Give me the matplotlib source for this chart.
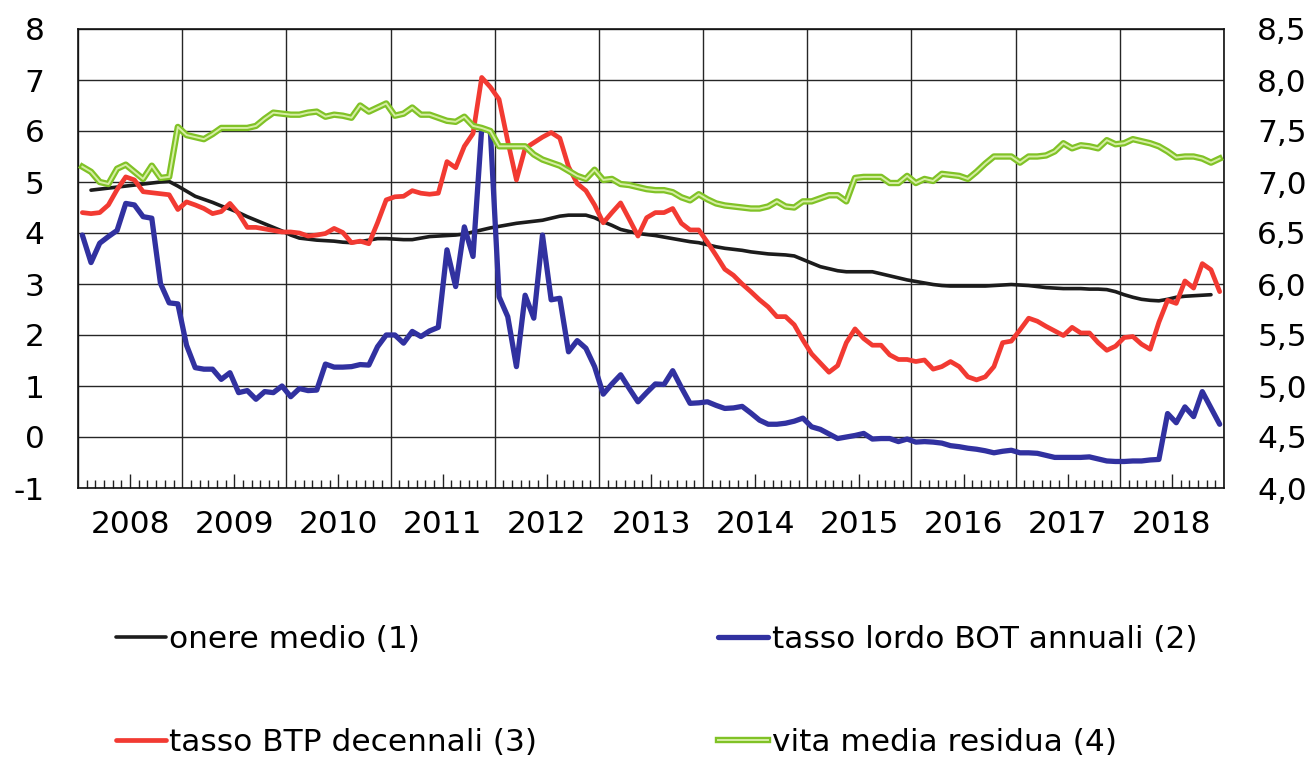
import numpy as np
import matplotlib
matplotlib.use("Agg")
import matplotlib.pyplot as plt
import matplotlib.patheffects as pe

# ---------------- data (monthly, Jan 2008 - Dec 2018) ----------------
years = ["2008", "2009", "2010", "2011", "2012", "2013", "2014", "2015", "2016", "2017", "2018"]

onere_medio = [np.nan,
    4.84, 4.86, 4.88, 4.90, 4.92, 4.94, 4.96, 4.98, 5.00, 5.01, 4.92,
    4.82, 4.72, 4.66, 4.60, 4.53, 4.47, 4.40, 4.32, 4.25, 4.18, 4.11, 4.04,
    3.96, 3.90, 3.88, 3.86, 3.85, 3.84, 3.82, 3.81, 3.83, 3.86, 3.89, 3.89,
    3.88, 3.87, 3.87, 3.90, 3.93, 3.94, 3.95, 3.96, 3.98, 4.02, 4.06, 4.10,
    4.13, 4.16, 4.19, 4.21, 4.23, 4.25, 4.29, 4.33, 4.35, 4.35, 4.35, 4.30,
    4.22, 4.15, 4.07, 4.03, 3.99, 3.97, 3.95, 3.92, 3.89, 3.86, 3.83, 3.81,
    3.77, 3.73, 3.70, 3.68, 3.66, 3.63, 3.61, 3.59, 3.58, 3.57, 3.55, 3.48,
    3.41, 3.34, 3.30, 3.26, 3.24, 3.24, 3.24, 3.24, 3.20, 3.16, 3.12, 3.08,
    3.05, 3.02, 2.99, 2.97, 2.96, 2.96, 2.96, 2.96, 2.96, 2.97, 2.98, 2.99,
    2.98, 2.97, 2.95, 2.93, 2.92, 2.91, 2.91, 2.91, 2.90, 2.90, 2.89, 2.85,
    2.79, 2.74, 2.70, 2.68, 2.67, 2.70, 2.74, 2.76, 2.77, 2.78, 2.79,
    np.nan]

tasso_bot = [
    3.96, 3.42, 3.80, 3.93, 4.05, 4.58, 4.55, 4.32, 4.29, 3.01, 2.63, 2.61,
    1.80, 1.36, 1.33, 1.33, 1.13, 1.26, 0.87, 0.91, 0.74, 0.89, 0.87, 1.00,
    0.79, 0.95, 0.91, 0.92, 1.43, 1.37, 1.37, 1.38, 1.42, 1.41, 1.77, 2.00,
    2.00, 1.84, 2.07, 1.97, 2.08, 2.15, 3.67, 2.95, 4.12, 3.54, 6.05, 5.99,
    2.75, 2.36, 1.38, 2.78, 2.33, 3.96, 2.69, 2.72, 1.67, 1.89, 1.74, 1.38,
    0.84, 1.04, 1.22, 0.95, 0.69, 0.87, 1.04, 1.03, 1.30, 0.97, 0.66, 0.67,
    0.69, 0.62, 0.56, 0.57, 0.60, 0.47, 0.33, 0.25, 0.25, 0.27, 0.31, 0.37,
    0.20, 0.15, 0.06, -0.03, 0.00, 0.03, 0.07, -0.04, -0.03, -0.03, -0.09, -0.04,
    -0.10, -0.09, -0.10, -0.12, -0.17, -0.19, -0.22, -0.24, -0.27, -0.31, -0.28, -0.26,
    -0.31, -0.31, -0.32, -0.36, -0.40, -0.40, -0.40, -0.40, -0.39, -0.43, -0.47, -0.48,
    -0.48, -0.47, -0.47, -0.45, -0.44, 0.46, 0.28, 0.59, 0.40, 0.89, 0.57, 0.25]

tasso_btp = [
    4.40, 4.38, 4.40, 4.55, 4.85, 5.10, 5.04, 4.81, 4.79, 4.77, 4.75, 4.46,
    4.61, 4.55, 4.48, 4.38, 4.42, 4.58, 4.38, 4.11, 4.11, 4.08, 4.05, 4.02,
    4.02, 4.00, 3.94, 3.96, 3.99, 4.09, 4.01, 3.81, 3.84, 3.79, 4.20, 4.65,
    4.71, 4.72, 4.83, 4.78, 4.76, 4.78, 5.40, 5.28, 5.70, 5.95, 7.05, 6.86,
    6.62, 5.80, 5.04, 5.66, 5.77, 5.88, 5.97, 5.86, 5.30, 4.97, 4.83, 4.55,
    4.20, 4.40, 4.59, 4.27, 3.94, 4.30, 4.40, 4.40, 4.48, 4.19, 4.06, 4.06,
    3.82, 3.56, 3.29, 3.17, 3.00, 2.85, 2.69, 2.55, 2.36, 2.36, 2.20, 1.90,
    1.63, 1.45, 1.27, 1.40, 1.85, 2.12, 1.93, 1.80, 1.80, 1.61, 1.52, 1.52,
    1.48, 1.51, 1.33, 1.38, 1.48, 1.38, 1.18, 1.12, 1.18, 1.38, 1.85, 1.88,
    2.10, 2.33, 2.27, 2.17, 2.08, 1.99, 2.15, 2.04, 2.04, 1.85, 1.70, 1.78,
    1.95, 1.97, 1.82, 1.72, 2.25, 2.68, 2.62, 3.06, 2.92, 3.40, 3.28, 2.85]

vita_media = [
    7.15, 7.10, 7.00, 6.98, 7.13, 7.17, 7.10, 7.03, 7.16, 7.04, 7.05, 7.54,
    7.46, 7.44, 7.42, 7.47, 7.53, 7.53, 7.53, 7.53, 7.55, 7.62, 7.68, 7.67,
    7.66, 7.66, 7.68, 7.69, 7.64, 7.66, 7.65, 7.63, 7.75, 7.69, 7.73, 7.77,
    7.65, 7.67, 7.73, 7.66, 7.66, 7.63, 7.60, 7.59, 7.64, 7.55, 7.53, 7.50,
    7.35, 7.35, 7.35, 7.35, 7.27, 7.22, 7.19, 7.16, 7.11, 7.06, 7.03, 7.12,
    7.02, 7.03, 6.98, 6.97, 6.95, 6.93, 6.92, 6.92, 6.90, 6.85, 6.82, 6.88,
    6.83, 6.79, 6.77, 6.76, 6.75, 6.74, 6.74, 6.76, 6.81, 6.76, 6.75, 6.81,
    6.81, 6.84, 6.87, 6.87, 6.81, 7.04, 7.05, 7.05, 7.05, 6.99, 6.99, 7.06,
    6.99, 7.03, 7.01, 7.08, 7.07, 7.06, 7.03, 7.10, 7.18, 7.25, 7.25, 7.25,
    7.19, 7.25, 7.25, 7.26, 7.30, 7.38, 7.33, 7.36, 7.35, 7.33, 7.41, 7.37,
    7.38, 7.42, 7.40, 7.38, 7.35, 7.30, 7.24, 7.25, 7.25, 7.23, 7.19, 7.23]

left_ticks = [-1, 0, 1, 2, 3, 4, 5, 6, 7, 8]
right_ticks = [4.0, 4.5, 5.0, 5.5, 6.0, 6.5, 7.0, 7.5, 8.0, 8.5]

labels = ["onere medio (1)", "tasso lordo BOT annuali (2)",
          "tasso BTP decennali (3)", "vita media residua (4)"]

# ---------------- figure ----------------
W, H = 1311, 758
fig = plt.figure(figsize=(W / 100, H / 100), dpi=100)
FS = 22.5
plt.rcParams['font.family'] = ['DejaVu Sans']

L, R, T, B = 78, 1224, 29, 488
ax = fig.add_axes([L / W, (H - B) / H, (R - L) / W, (B - T) / H])

n = len(tasso_bot)
x = np.arange(n) + 0.5

c_black = '#1c1c1c'
c_blue = '#3131a0'
c_red = '#f23a32'
c_green_out = '#80c226'
c_green_in = '#d6eea4'

l1, = ax.plot(x, onere_medio, color=c_black, lw=2.6, label=labels[0], zorder=3,
              solid_capstyle='round')
l2, = ax.plot(x, tasso_bot, color=c_blue, lw=3.8, label=labels[1], zorder=3,
              solid_capstyle='round')
l3, = ax.plot(x, tasso_btp, color=c_red, lw=3.4, label=labels[2], zorder=3,
              solid_capstyle='round')

ax.set_xlim(0, n)
ax.set_ylim(-1, 8)
ax.set_yticks(left_ticks)
ax.set_yticklabels([str(v) for v in left_ticks])
ax.tick_params(axis='y', length=0, pad=24, labelsize=FS)

# x: year boundaries as grid, months as minor ticks, labels at mid-year
ax.set_xticks(np.arange(0, n + 1, 12))
ax.set_xticklabels([])
ax.tick_params(axis='x', which='major', length=0)
minor_pos = [m for m in range(1, n) if m % 12 != 0]
ax.set_xticks(minor_pos, minor=True)
ax.set_xticklabels([years[m // 12] if m % 12 == 6 else "" for m in minor_pos], minor=True)
ax.tick_params(axis='x', which='minor', direction='in', length=6, width=1.0,
               color='#222222', pad=16, labelsize=FS, top=False)
for m, tk in zip(minor_pos, ax.xaxis.get_minor_ticks()):
    if m % 12 == 6:
        tk.tick1line.set_markersize(10)

ax.grid(True, which='major', color='#262626', lw=1.0)
ax.set_axisbelow(True)
for s in ax.spines.values():
    s.set_color('#111111')
    s.set_linewidth(1.2)

ax2 = ax.twinx()
l4, = ax2.plot(x, vita_media, color=c_green_in, lw=1.4, label=labels[3], zorder=3,
               path_effects=[pe.Stroke(linewidth=4.6, foreground=c_green_out), pe.Normal()])
ax2.set_ylim(4.0, 8.5)
ax2.set_yticks(right_ticks)
ax2.set_yticklabels([f"{v:.1f}".replace('.', ',') for v in right_ticks])
ax2.tick_params(axis='y', length=0, pad=24, labelsize=FS)
for s in ax2.spines.values():
    s.set_visible(False)

fig.legend([l1, l3, l2, l4], [labels[0], labels[2], labels[1], labels[3]],
           ncol=2, loc='upper left', bbox_to_anchor=(116 / W, (H - 625) / H),
           frameon=False, fontsize=FS, handlelength=1.6, handletextpad=0.1,
           columnspacing=5.8, labelspacing=2.38, borderpad=0, borderaxespad=0)

fig.savefig("out.png", dpi=100)
